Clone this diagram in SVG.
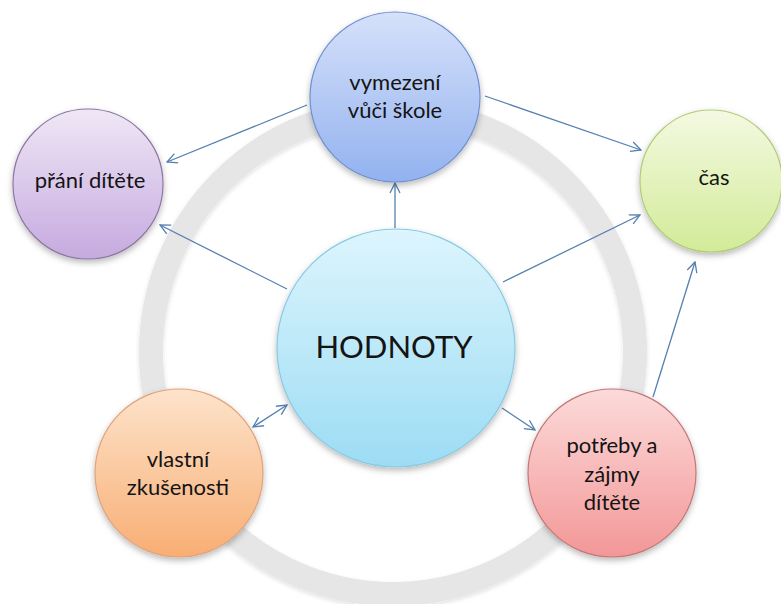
<svg xmlns="http://www.w3.org/2000/svg" width="781" height="604" viewBox="0 0 781 604">
<style>
.lbl{font-family:Lato,"Open Sans","Liberation Sans",sans-serif;fill:#141414;text-anchor:middle}
.s{font-size:22px}
.big{font-size:31px}
.con{stroke:#5580b0;stroke-width:1.3;fill:none}
</style>
<defs>
<filter id="sh" x="-20%" y="-20%" width="140%" height="150%">
<feDropShadow dx="0" dy="3" stdDeviation="3" flood-color="#000" flood-opacity="0.28"/>
</filter>
<filter id="rsh" x="-10%" y="-10%" width="120%" height="120%">
<feDropShadow dx="0" dy="2" stdDeviation="2" flood-color="#000" flood-opacity="0.12"/>
</filter>
<linearGradient id="gBlue" x1="0" y1="0" x2="0" y2="1"><stop offset="0" stop-color="#d6e1fa"/><stop offset="1" stop-color="#92b2ef"/></linearGradient>
<linearGradient id="gPurple" x1="0" y1="0" x2="0" y2="1"><stop offset="0" stop-color="#efe7f6"/><stop offset="1" stop-color="#c6aadf"/></linearGradient>
<linearGradient id="gGreen" x1="0" y1="0" x2="0" y2="1"><stop offset="0" stop-color="#f4f9e2"/><stop offset="1" stop-color="#d2eb98"/></linearGradient>
<linearGradient id="gCyan" x1="0" y1="0" x2="0" y2="1"><stop offset="0" stop-color="#ddf5fd"/><stop offset="1" stop-color="#9cdcf4"/></linearGradient>
<linearGradient id="gOrange" x1="0" y1="0" x2="0" y2="1"><stop offset="0" stop-color="#fde3cb"/><stop offset="1" stop-color="#f8ae74"/></linearGradient>
<linearGradient id="gRed" x1="0" y1="0" x2="0" y2="1"><stop offset="0" stop-color="#fcdada"/><stop offset="1" stop-color="#f39797"/></linearGradient>
<marker id="ah" viewBox="0 0 12 12" refX="11" refY="6" markerWidth="12" markerHeight="12" markerUnits="userSpaceOnUse" orient="auto-start-reverse">
<path d="M1,1 L11,6 L1,11" fill="none" stroke="#5580b0" stroke-width="1.3"/>
</marker>
</defs>
<rect width="781" height="604" fill="#ffffff"/>
<g id="ring">
<circle cx="393" cy="352" r="242" fill="none" stroke="#e6e6e6" stroke-width="24" filter="url(#rsh)"/>
</g>
<g id="connectors">
<line class="con" x1="307" y1="105" x2="167" y2="162" marker-end="url(#ah)"/>
<line class="con" x1="287" y1="289" x2="160" y2="225" marker-end="url(#ah)"/>
<line class="con" x1="395" y1="228" x2="395" y2="183" marker-end="url(#ah)"/>
<line class="con" x1="485" y1="96" x2="641" y2="150" marker-end="url(#ah)"/>
<line class="con" x1="503" y1="282" x2="640" y2="215" marker-end="url(#ah)"/>
<line class="con" x1="653" y1="397" x2="695" y2="262" marker-end="url(#ah)"/>
<line class="con" x1="502" y1="408" x2="535" y2="430" marker-end="url(#ah)"/>
<line class="con" x1="253" y1="427" x2="287" y2="405" marker-start="url(#ah)" marker-end="url(#ah)"/>
</g>
<g id="hodnoty">
<circle cx="396" cy="348" r="119" fill="url(#gCyan)" stroke="#86cbe2" stroke-width="1.2" filter="url(#sh)"/>
<text class="lbl big" x="394" y="358">HODNOTY</text>
</g>
<g id="vymezeni">
<circle cx="395" cy="97" r="85" fill="url(#gBlue)" stroke="#6f8fcf" stroke-width="1.2" filter="url(#sh)"/>
<text class="lbl s" x="395" y="90">vymezení</text>
<text class="lbl s" x="395" y="118">vůči škole</text>
</g>
<g id="prani">
<circle cx="88" cy="184" r="75" fill="url(#gPurple)" stroke="#8a76a2" stroke-width="1.2" filter="url(#sh)"/>
<text class="lbl s" x="90" y="188">přání dítěte</text>
</g>
<g id="cas">
<circle cx="711" cy="181" r="71" fill="url(#gGreen)" stroke="#b2cc78" stroke-width="1.2" filter="url(#sh)"/>
<text class="lbl s" x="714" y="185">čas</text>
</g>
<g id="vlastni">
<circle cx="179" cy="473" r="84" fill="url(#gOrange)" stroke="#e0a37a" stroke-width="1.2" filter="url(#sh)"/>
<text class="lbl s" x="178" y="467">vlastní</text>
<text class="lbl s" x="178" y="495">zkušenosti</text>
</g>
<g id="potreby">
<circle cx="612" cy="473" r="84" fill="url(#gRed)" stroke="#c47676" stroke-width="1.2" filter="url(#sh)"/>
<text class="lbl s" x="612" y="453">potřeby a</text>
<text class="lbl s" x="612" y="482">zájmy</text>
<text class="lbl s" x="612" y="510">dítěte</text>
</g>
</svg>
